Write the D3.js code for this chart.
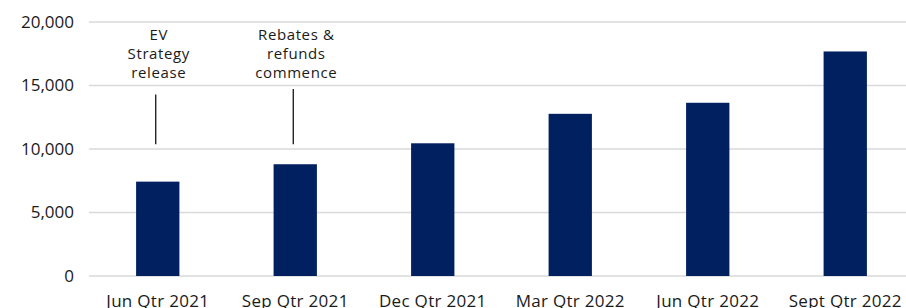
<!DOCTYPE html>
<html>
<head>
<meta charset="utf-8">
<script src="https://cdn.jsdelivr.net/npm/d3@7"></script>
<style>
  body { margin: 0; background: #fff; overflow: hidden; }
  text { font-family: "Open Sans", Roboto, sans-serif; fill: #1a1a1a; }
</style>
</head>
<body>
<div id="chart"></div>
<script>
// chart data
var categories = ['Jun Qtr 2021', 'Sep Qtr 2021', 'Dec Qtr 2021', 'Mar Qtr 2022', 'Jun Qtr 2022', 'Sept Qtr 2022'];
var values = [7430, 8800, 10450, 12770, 13640, 17680];
var yTicks = [0, 5000, 10000, 15000, 20000];

// annotations: category, text lines, leader line extent (in data units)
var noteCats = ['Jun Qtr 2021', 'Sep Qtr 2021'];
var noteLines = [['EV', 'Strategy', 'release'], ['Rebates &', 'refunds', 'commence']];
var noteTop = [14300, 14720];
var noteBottom = [10380, 10380];

var W = 906, H = 308;
var margin = {top: 22, right: -8, bottom: 32, left: 89};
var width = W - margin.left - margin.right,
    height = H - margin.top - margin.bottom;

var svg = d3.select('#chart').append('svg')
    .attr('width', W)
    .attr('height', H);

var g = svg.append('g')
    .attr('transform', 'translate(' + margin.left + ',' + margin.top + ')');

var x = d3.scaleBand().domain(categories).range([0, width]).padding(0);
var y = d3.scaleLinear().domain([0, 20000]).range([height, 0]);
var barW = x.bandwidth() * 0.315;

// gridlines
g.selectAll('.grid')
    .data(yTicks)
    .enter().append('line')
    .attr('class', 'grid')
    .attr('x1', 0)
    .attr('x2', width)
    .attr('y1', function(d) { return y(d); })
    .attr('y2', function(d) { return y(d); })
    .attr('stroke', '#d9d9d9')
    .attr('stroke-width', 1.3);

// y axis labels
var yAxis = g.append('g')
    .call(d3.axisLeft(y).tickValues(yTicks).tickSize(0).tickPadding(15).tickFormat(d3.format(',')));
yAxis.select('.domain').remove();
yAxis.selectAll('text').style('font-size', '17px').style('fill', '#1a1a1a');

// x axis labels
var xAxis = g.append('g')
    .attr('transform', 'translate(0,' + height + ')')
    .call(d3.axisBottom(x).tickSize(0).tickPadding(19));
xAxis.select('.domain').remove();
xAxis.selectAll('text').style('font-size', '17px').style('letter-spacing', '0.3px').style('fill', '#1a1a1a');

// bars
g.selectAll('.bar')
    .data(values)
    .enter().append('rect')
    .attr('class', 'bar')
    .attr('x', function(d, i) { return x(categories[i]) + x.bandwidth() / 2 - barW / 2; })
    .attr('y', function(d) { return y(d); })
    .attr('width', barW)
    .attr('height', function(d) { return height - y(d); })
    .attr('fill', '#002060');

// annotations
noteCats.forEach(function(c, i) {
    var cx = x(c) + x.bandwidth() / 2 - 2;
    g.append('line')
        .attr('x1', cx).attr('x2', cx)
        .attr('y1', y(noteTop[i]))
        .attr('y2', y(noteBottom[i]))
        .attr('stroke', '#000')
        .attr('stroke-width', 1.2);
    var t = g.append('text')
        .attr('text-anchor', 'middle')
        .style('font-size', '15px')
        .style('letter-spacing', '0.6px');
    noteLines[i].forEach(function(s, j) {
        t.append('tspan')
            .attr('x', cx + 3)
            .attr('y', 18 + j * 19)
            .text(s);
    });
});
</script>
</body>
</html>
